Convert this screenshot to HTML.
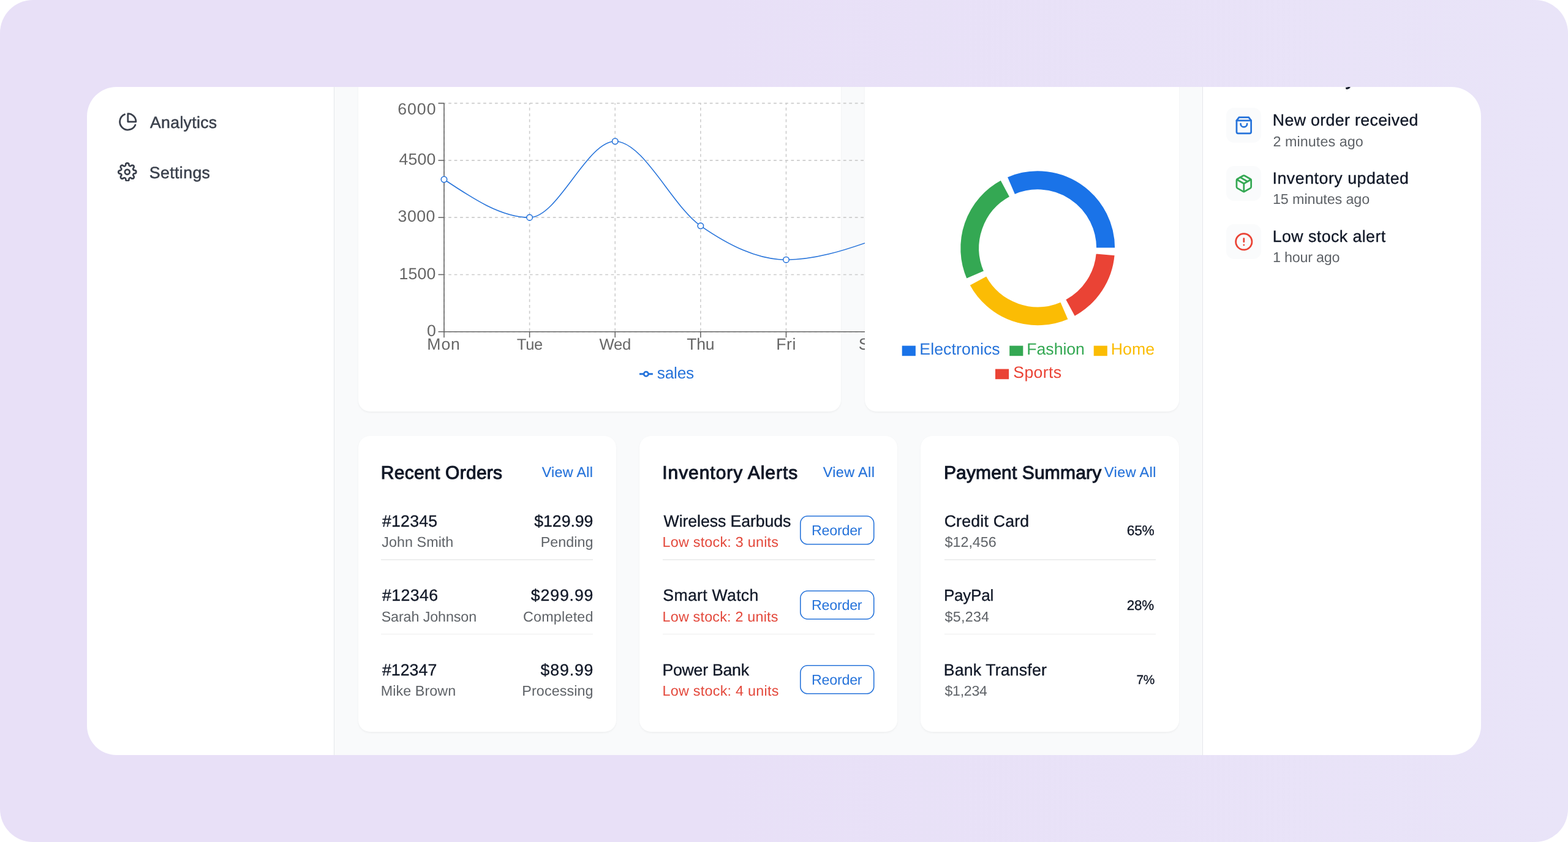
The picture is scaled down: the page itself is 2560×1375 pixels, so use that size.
<!DOCTYPE html>
<html lang="en"><head><meta charset="utf-8"><title>Dashboard</title>
<style>
html,body{margin:0;padding:0;background:#fff;}
body{width:2560px;height:1375px;overflow:hidden;position:relative;font-family:"Liberation Sans", sans-serif;}
.abs{position:absolute;}
.w{display:contents;}
.t{position:absolute;white-space:nowrap;line-height:1;font-family:"Liberation Sans", sans-serif;text-rendering:geometricPrecision;}
#frame{position:absolute;left:0;top:0;width:2560px;height:1375px;border-radius:54px;background:linear-gradient(90deg,#e8e0f7 0%,#e8e0f7 45%,#e9e4f8 100%);}
#app{position:absolute;left:142px;top:142px;width:2276px;height:1091px;border-radius:48px;overflow:hidden;background:#fff;}
#g{position:absolute;left:-142px;top:-142px;width:2560px;height:1375px;}
#main{position:absolute;left:546px;top:0;width:1417.5px;height:1375px;background:#f9fafb;}
.card{position:absolute;background:#fff;border-radius:18.97px;box-shadow:0 1.58px 3.16px rgba(0,0,0,0.045);}
#chartclip{position:absolute;left:0;top:0;width:1411.5px;height:1375px;overflow:hidden;}
</style></head>
<body>
<div id="frame"></div>
<div id="app"><div id="g">
<div id="main"></div>
<div class="abs" style="left:545px;top:0;width:1px;height:1375px;background:#e5e7eb"></div>
<div class="abs" style="left:1963.2px;top:0;width:1px;height:1375px;background:#e5e7eb"></div>
<aside class="w"><nav class="w">
<svg class="abs" style="left:192.69px;top:182.79px" width="31.61" height="31.61" viewBox="0 0 24 24" fill="none" stroke="#3a404c" stroke-width="2.08" stroke-linecap="round" stroke-linejoin="round"><path d="M21.21 15.89A10 10 0 1 1 8 2.83"/><path d="M22 12A10 10 0 0 0 12 2v10z"/></svg><svg class="abs" style="left:192.09px;top:264.79px" width="31.61" height="31.61" viewBox="0 0 24 24" fill="none" stroke="#3a404c" stroke-width="2.08" stroke-linecap="round" stroke-linejoin="round"><circle cx="12" cy="12" r="3"/><path d="M19.4 15a1.65 1.65 0 0 0 .33 1.82l.06.06a2 2 0 0 1 0 2.83 2 2 0 0 1-2.83 0l-.06-.06a1.65 1.65 0 0 0-1.82-.33 1.65 1.65 0 0 0-1 1.51V21a2 2 0 0 1-2 2 2 2 0 0 1-2-2v-.09A1.65 1.65 0 0 0 9 19.4a1.65 1.65 0 0 0-1.82.33l-.06.06a2 2 0 0 1-2.83 0 2 2 0 0 1 0-2.83l.06-.06a1.65 1.65 0 0 0 .33-1.82 1.65 1.65 0 0 0-1.51-1H3a2 2 0 0 1-2-2 2 2 0 0 1 2-2h.09A1.65 1.65 0 0 0 4.6 9a1.65 1.65 0 0 0-.33-1.82l-.06-.06a2 2 0 0 1 0-2.83 2 2 0 0 1 2.83 0l.06.06a1.65 1.65 0 0 0 1.82.33H9a1.65 1.65 0 0 0 1-1.51V3a2 2 0 0 1 2-2 2 2 0 0 1 2 2v.09a1.65 1.65 0 0 0 1 1.51 1.65 1.65 0 0 0 1.82-.33l.06-.06a2 2 0 0 1 2.83 0 2 2 0 0 1 0 2.83l-.06.06a1.65 1.65 0 0 0-.33 1.82V9a1.65 1.65 0 0 0 1.51 1H21a2 2 0 0 1 2 2 2 2 0 0 1-2 2h-.09a1.65 1.65 0 0 0-1.51 1z"/></svg>
<span class="t" style="left:245.00px;top:187px;font-size:26.68px;color:#3a404c;letter-spacing:0.309px;-webkit-text-stroke:0.50px #3a404c;">Analytics</span><span class="t" style="left:243.80px;top:269px;font-size:26.68px;color:#3a404c;letter-spacing:0.398px;-webkit-text-stroke:0.50px #3a404c;">Settings</span>
</nav></aside>
<main class="w">
<section class="w">
<div class="card" style="left:584.50px;top:60.00px;width:788.75px;height:612.30px;"></div>
<div id="chartclip">
<svg class="abs" style="left:0;top:0" width="2560" height="1375" viewBox="0 0 2560 1375">
<line x1="725.0" y1="541.70" x2="1562.72" y2="541.70" stroke="#ccc" stroke-width="1.58" stroke-dasharray="4.74 4.74" stroke-dashoffset="2.3"/>
<line x1="725.0" y1="448.43" x2="1562.72" y2="448.43" stroke="#ccc" stroke-width="1.58" stroke-dasharray="4.74 4.74" stroke-dashoffset="2.3"/>
<line x1="725.0" y1="355.15" x2="1562.72" y2="355.15" stroke="#ccc" stroke-width="1.58" stroke-dasharray="4.74 4.74" stroke-dashoffset="2.3"/>
<line x1="725.0" y1="261.88" x2="1562.72" y2="261.88" stroke="#ccc" stroke-width="1.58" stroke-dasharray="4.74 4.74" stroke-dashoffset="2.3"/>
<line x1="725.0" y1="168.60" x2="1562.72" y2="168.60" stroke="#ccc" stroke-width="1.58" stroke-dasharray="4.74 4.74" stroke-dashoffset="2.3"/>
<line x1="725.00" y1="168.6" x2="725.00" y2="541.7" stroke="#ccc" stroke-width="1.58" stroke-dasharray="4.74 4.74" stroke-dashoffset="2.3"/>
<line x1="864.62" y1="168.6" x2="864.62" y2="541.7" stroke="#ccc" stroke-width="1.58" stroke-dasharray="4.74 4.74" stroke-dashoffset="2.3"/>
<line x1="1004.24" y1="168.6" x2="1004.24" y2="541.7" stroke="#ccc" stroke-width="1.58" stroke-dasharray="4.74 4.74" stroke-dashoffset="2.3"/>
<line x1="1143.86" y1="168.6" x2="1143.86" y2="541.7" stroke="#ccc" stroke-width="1.58" stroke-dasharray="4.74 4.74" stroke-dashoffset="2.3"/>
<line x1="1283.48" y1="168.6" x2="1283.48" y2="541.7" stroke="#ccc" stroke-width="1.58" stroke-dasharray="4.74 4.74" stroke-dashoffset="2.3"/>
<line x1="1423.10" y1="168.6" x2="1423.10" y2="541.7" stroke="#ccc" stroke-width="1.58" stroke-dasharray="4.74 4.74" stroke-dashoffset="2.3"/>
<line x1="1562.72" y1="168.6" x2="1562.72" y2="541.7" stroke="#ccc" stroke-width="1.58" stroke-dasharray="4.74 4.74" stroke-dashoffset="2.3"/>
<line x1="725.0" y1="541.7" x2="1562.72" y2="541.7" stroke="#666666" stroke-width="1.58"/>
<line x1="725.0" y1="168.6" x2="725.0" y2="541.7" stroke="#666666" stroke-width="1.58"/>
<line x1="725.00" y1="541.7" x2="725.00" y2="551.18" stroke="#666666" stroke-width="1.58"/>
<line x1="864.62" y1="541.7" x2="864.62" y2="551.18" stroke="#666666" stroke-width="1.58"/>
<line x1="1004.24" y1="541.7" x2="1004.24" y2="551.18" stroke="#666666" stroke-width="1.58"/>
<line x1="1143.86" y1="541.7" x2="1143.86" y2="551.18" stroke="#666666" stroke-width="1.58"/>
<line x1="1283.48" y1="541.7" x2="1283.48" y2="551.18" stroke="#666666" stroke-width="1.58"/>
<line x1="1423.10" y1="541.7" x2="1423.10" y2="551.18" stroke="#666666" stroke-width="1.58"/>
<line x1="1562.72" y1="541.7" x2="1562.72" y2="551.18" stroke="#666666" stroke-width="1.58"/>
<line x1="715.52" y1="541.70" x2="725.0" y2="541.70" stroke="#666666" stroke-width="1.58"/>
<line x1="715.52" y1="448.43" x2="725.0" y2="448.43" stroke="#666666" stroke-width="1.58"/>
<line x1="715.52" y1="355.15" x2="725.0" y2="355.15" stroke="#666666" stroke-width="1.58"/>
<line x1="715.52" y1="261.88" x2="725.0" y2="261.88" stroke="#666666" stroke-width="1.58"/>
<line x1="715.52" y1="168.60" x2="725.0" y2="168.60" stroke="#666666" stroke-width="1.58"/>
<path d="M725.00,292.97C771.54,324.06 818.08,355.15 864.62,355.15C911.16,355.15 957.70,230.78 1004.24,230.78C1050.78,230.78 1097.32,336.60 1143.86,368.83C1190.40,401.06 1236.94,424.17 1283.48,424.17C1330.02,424.17 1376.56,409.66 1423.10,393.08C1469.64,376.50 1516.18,350.59 1562.72,324.68" fill="none" stroke="#2673da" stroke-width="1.58"/>
<circle cx="725.00" cy="292.97" r="4.74" fill="#fff" stroke="#2673da" stroke-width="1.58"/>
<circle cx="864.62" cy="355.15" r="4.74" fill="#fff" stroke="#2673da" stroke-width="1.58"/>
<circle cx="1004.24" cy="230.78" r="4.74" fill="#fff" stroke="#2673da" stroke-width="1.58"/>
<circle cx="1143.86" cy="368.83" r="4.74" fill="#fff" stroke="#2673da" stroke-width="1.58"/>
<circle cx="1283.48" cy="424.17" r="4.74" fill="#fff" stroke="#2673da" stroke-width="1.58"/>
<circle cx="1423.10" cy="393.08" r="4.74" fill="#fff" stroke="#2673da" stroke-width="1.58"/>
<circle cx="1562.72" cy="324.68" r="4.74" fill="#fff" stroke="#2673da" stroke-width="1.58"/>
<svg x="1043.80" y="599.69" width="22.13" height="22.13" viewBox="0 0 32 32"><path stroke-width="4" fill="none" stroke="#2673da" d="M0,16h10.666666666666666A5.333333333333333,5.333333333333333,0,1,1,21.333333333333332,16H32M21.333333333333332,16A5.333333333333333,5.333333333333333,0,1,1,10.666666666666666,16"/></svg>
</svg>
<span class="t" style="left:649.17px;top:165px;font-size:26.68px;color:#666666;letter-spacing:0.999px;">6000</span><span class="t" style="left:651.47px;top:247px;font-size:26.68px;color:#666666;letter-spacing:0.149px;">4500</span><span class="t" style="left:649.57px;top:340px;font-size:26.68px;color:#666666;letter-spacing:0.482px;">3000</span><span class="t" style="left:651.50px;top:434px;font-size:26.68px;color:#666666;letter-spacing:0.138px;">1500</span><span class="t" style="left:697.07px;top:527px;font-size:26.68px;color:#666666;letter-spacing:0.110px;">0</span><span class="t" style="left:697.37px;top:549px;font-size:26.68px;color:#666666;letter-spacing:0.833px;">Mon</span><span class="t" style="left:843.74px;top:551px;font-size:25.57px;color:#666666;letter-spacing:-0.250px;">Tue</span><span class="t" style="left:978.50px;top:551px;font-size:25.7px;color:#666666;letter-spacing:-0.250px;">Wed</span><span class="t" style="left:1121.22px;top:549px;font-size:26.6px;color:#666666;letter-spacing:-0.250px;">Thu</span><span class="t" style="left:1267.28px;top:549px;font-size:26.68px;color:#666666;letter-spacing:0.476px;">Fri</span><span class="t" style="left:1401.84px;top:549px;font-size:26.68px;color:#666666;letter-spacing:0.678px;">Sat</span><span class="t" style="left:1538.42px;top:549px;font-size:26.68px;color:#666666;letter-spacing:0.781px;">Sun</span><span class="t" style="left:1072.84px;top:596px;font-size:26.29px;color:#2673da;letter-spacing:-0.250px;">sales</span>
</div>
</section>
<section class="w">
<div class="card" style="left:1411.50px;top:60.00px;width:513.30px;height:612.30px;"></div>
<svg class="abs" style="left:0;top:0" width="2560" height="1375" viewBox="0 0 2560 1375">
<path d="M1820.94,405.30A126.74,126.74 0 0 0 1644.00,288.92L1656.52,317.95A95.13,95.13 0 0 1 1789.33,405.30Z" fill="#1a73e8" stroke="#fff" stroke-width="1.58"/>
<path d="M1634.05,293.74A126.74,126.74 0 0 0 1577.82,455.50L1606.85,442.98A95.13,95.13 0 0 1 1649.05,321.56Z" fill="#34a853" stroke="#fff" stroke-width="1.58"/>
<path d="M1582.64,465.45A126.74,126.74 0 0 0 1744.40,521.68L1731.88,492.65A95.13,95.13 0 0 1 1610.46,450.45Z" fill="#fbbc04" stroke="#fff" stroke-width="1.58"/>
<path d="M1754.35,516.86A126.74,126.74 0 0 0 1820.46,416.35L1788.97,413.59A95.13,95.13 0 0 1 1739.35,489.04Z" fill="#ea4335" stroke="#fff" stroke-width="1.58"/>
<rect x="1472.7" y="564.6" width="22.13" height="16.60" fill="#1a73e8"/>
<rect x="1648.2" y="564.6" width="22.13" height="16.60" fill="#34a853"/>
<rect x="1785.7" y="564.6" width="22.13" height="16.60" fill="#fbbc04"/>
<rect x="1625.0" y="602.6" width="22.13" height="16.60" fill="#ea4335"/>
</svg>
<span class="t" style="left:1501.27px;top:557px;font-size:26.68px;color:#2673da;letter-spacing:0.099px;">Electronics</span><span class="t" style="left:1676.37px;top:557px;font-size:26.68px;color:#34a853;letter-spacing:-0.058px;">Fashion</span><span class="t" style="left:1813.67px;top:557px;font-size:26.68px;color:#fbbc04;letter-spacing:0.088px;">Home</span><span class="t" style="left:1654.30px;top:595px;font-size:26.68px;color:#ea4335;letter-spacing:0.325px;">Sports</span>
</section>
<section class="w">
<div class="card" style="left:584.50px;top:711.50px;width:421.48px;height:483.30px;"></div>
<div class="abs" style="left:622.4px;top:913.11px;width:345.50px;height:1.58px;background:#edeeee"></div><div class="abs" style="left:622.4px;top:1034.81px;width:345.50px;height:1.58px;background:#edeeee"></div>
<span class="t" style="left:621.82px;top:758px;font-size:30.01px;color:#111827;letter-spacing:0.269px;-webkit-text-stroke:1.05px #111827;">Recent Orders</span><span class="t" style="left:884.71px;top:760px;font-size:23.34px;color:#2673da;letter-spacing:0.275px;-webkit-text-stroke:0.21px #2673da;">View All</span><span class="t" style="left:623.88px;top:838px;font-size:26.68px;color:#111827;letter-spacing:0.264px;-webkit-text-stroke:0.35px #111827;">#12345</span><span class="t" style="left:872.31px;top:838px;font-size:26.68px;color:#111827;letter-spacing:-0.049px;-webkit-text-stroke:0.35px #111827;">$129.99</span><span class="t" style="left:623.35px;top:874px;font-size:23.34px;color:#5f6368;letter-spacing:0.033px;">John Smith</span><span class="t" style="left:882.73px;top:874px;font-size:23.34px;color:#5f6368;letter-spacing:0.037px;">Pending</span><span class="t" style="left:623.88px;top:959px;font-size:26.68px;color:#111827;letter-spacing:0.424px;-webkit-text-stroke:0.35px #111827;">#12346</span><span class="t" style="left:866.81px;top:959px;font-size:26.68px;color:#111827;letter-spacing:0.868px;-webkit-text-stroke:0.35px #111827;">$299.99</span><span class="t" style="left:622.65px;top:996px;font-size:23.34px;color:#5f6368;letter-spacing:-0.114px;">Sarah Johnson</span><span class="t" style="left:853.93px;top:996px;font-size:23.34px;color:#5f6368;letter-spacing:0.225px;">Completed</span><span class="t" style="left:623.88px;top:1081px;font-size:26.68px;color:#111827;letter-spacing:0.071px;-webkit-text-stroke:0.35px #111827;">#12347</span><span class="t" style="left:882.61px;top:1081px;font-size:26.68px;color:#111827;letter-spacing:0.849px;-webkit-text-stroke:0.35px #111827;">$89.99</span><span class="t" style="left:621.83px;top:1117px;font-size:23.34px;color:#5f6368;letter-spacing:0.050px;">Mike Brown</span><span class="t" style="left:852.33px;top:1117px;font-size:23.34px;color:#5f6368;letter-spacing:0.090px;">Processing</span>
</section>
<section class="w">
<div class="card" style="left:1043.91px;top:711.50px;width:421.48px;height:483.30px;"></div>
<div class="abs" style="left:1082.2px;top:913.11px;width:345.60px;height:1.58px;background:#edeeee"></div><div class="abs" style="left:1082.2px;top:1034.81px;width:345.60px;height:1.58px;background:#edeeee"></div>
<svg class="abs" style="left:0;top:0" width="2560" height="1375" viewBox="0 0 2560 1375"><rect x="1306.79" y="842.79" width="119.92" height="46.02" rx="11.85" fill="none" stroke="#2673da" stroke-width="1.58"/><rect x="1306.79" y="964.99" width="119.92" height="46.02" rx="11.85" fill="none" stroke="#2673da" stroke-width="1.58"/><rect x="1306.79" y="1086.79" width="119.92" height="46.02" rx="11.85" fill="none" stroke="#2673da" stroke-width="1.58"/></svg>
<span class="t" style="left:1081.22px;top:758px;font-size:30.01px;color:#111827;letter-spacing:0.949px;-webkit-text-stroke:1.05px #111827;">Inventory Alerts</span><span class="t" style="left:1343.70px;top:760px;font-size:23.34px;color:#2673da;letter-spacing:0.417px;-webkit-text-stroke:0.21px #2673da;">View All</span><span class="t" style="left:1083.58px;top:838px;font-size:26.68px;color:#111827;letter-spacing:-0.085px;-webkit-text-stroke:0.35px #111827;">Wireless Earbuds</span><span class="t" style="left:1081.53px;top:874px;font-size:23.34px;color:#e3483b;letter-spacing:0.237px;">Low stock: 3 units</span><span class="t" style="left:1325.04px;top:855px;font-size:23.27px;color:#2673da;letter-spacing:-0.250px;">Reorder</span><span class="t" style="left:1082.37px;top:959px;font-size:26.68px;color:#111827;letter-spacing:0.279px;-webkit-text-stroke:0.35px #111827;">Smart Watch</span><span class="t" style="left:1081.53px;top:996px;font-size:23.34px;color:#e3483b;letter-spacing:0.208px;">Low stock: 2 units</span><span class="t" style="left:1325.04px;top:977px;font-size:23.27px;color:#2673da;letter-spacing:-0.250px;">Reorder</span><span class="t" style="left:1081.44px;top:1081px;font-size:26.68px;color:#111827;letter-spacing:-0.244px;-webkit-text-stroke:0.35px #111827;">Power Bank</span><span class="t" style="left:1081.53px;top:1117px;font-size:23.34px;color:#e3483b;letter-spacing:0.261px;">Low stock: 4 units</span><span class="t" style="left:1325.04px;top:1099px;font-size:23.27px;color:#2673da;letter-spacing:-0.250px;">Reorder</span>
</section>
<section class="w">
<div class="card" style="left:1503.32px;top:711.50px;width:421.48px;height:483.30px;"></div>
<div class="abs" style="left:1541.6px;top:913.11px;width:345.40px;height:1.58px;background:#edeeee"></div><div class="abs" style="left:1541.6px;top:1034.81px;width:345.40px;height:1.58px;background:#edeeee"></div>
<span class="t" style="left:1540.92px;top:758px;font-size:30.01px;color:#111827;letter-spacing:0.154px;-webkit-text-stroke:1.05px #111827;">Payment Summary</span><span class="t" style="left:1803.01px;top:760px;font-size:23.34px;color:#2673da;letter-spacing:0.446px;-webkit-text-stroke:0.21px #2673da;">View All</span><span class="t" style="left:1541.64px;top:838px;font-size:26.68px;color:#111827;letter-spacing:0.211px;-webkit-text-stroke:0.35px #111827;">Credit Card</span><span class="t" style="left:1542.57px;top:874px;font-size:23.34px;color:#5f6368;letter-spacing:-0.032px;">$12,456</span><span class="t" style="left:1839.84px;top:855px;font-size:22.71px;color:#111827;letter-spacing:-0.250px;-webkit-text-stroke:0.35px #111827;">65%</span><span class="t" style="left:1540.89px;top:959px;font-size:26.1px;color:#111827;letter-spacing:-0.250px;-webkit-text-stroke:0.35px #111827;">PayPal</span><span class="t" style="left:1542.57px;top:996px;font-size:23.34px;color:#5f6368;letter-spacing:0.228px;">$5,234</span><span class="t" style="left:1839.85px;top:978px;font-size:22.4px;color:#111827;letter-spacing:-0.250px;-webkit-text-stroke:0.35px #111827;">28%</span><span class="t" style="left:1540.84px;top:1081px;font-size:26.68px;color:#111827;letter-spacing:0.162px;-webkit-text-stroke:0.35px #111827;">Bank Transfer</span><span class="t" style="left:1542.57px;top:1117px;font-size:23.04px;color:#5f6368;letter-spacing:-0.250px;">$1,234</span><span class="t" style="left:1855.54px;top:1101px;font-size:20.79px;color:#111827;letter-spacing:-0.250px;-webkit-text-stroke:0.35px #111827;">7%</span>
</section>
</main>
<aside class="w">
<div class="abs" style="left:2002.25px;top:176.40px;width:56.90px;height:56.90px;border-radius:12.64px;background:#fafbfc"></div><svg class="abs" style="left:2014.89px;top:189.04px" width="31.61" height="31.61" viewBox="0 0 24 24" fill="none" stroke="#2673da" stroke-width="2.08" stroke-linecap="round" stroke-linejoin="round"><path d="M6 2 3 6v14a2 2 0 0 0 2 2h14a2 2 0 0 0 2-2V6l-3-4Z"/><path d="M3 6h18"/><path d="M16 10a4 4 0 0 1-8 0"/></svg><div class="abs" style="left:2002.25px;top:271.20px;width:56.90px;height:56.90px;border-radius:12.64px;background:#fafbfc"></div><svg class="abs" style="left:2014.89px;top:283.84px" width="31.61" height="31.61" viewBox="0 0 24 24" fill="none" stroke="#34a853" stroke-width="2.08" stroke-linecap="round" stroke-linejoin="round"><path d="m7.5 4.27 9 5.15"/><path d="M21 8a2 2 0 0 0-1-1.73l-7-4a2 2 0 0 0-2 0l-7 4A2 2 0 0 0 3 8v8a2 2 0 0 0 1 1.73l7 4a2 2 0 0 0 2 0l7-4A2 2 0 0 0 21 16Z"/><path d="m3.3 7 8.7 5 8.7-5"/><path d="M12 22V12"/></svg><div class="abs" style="left:2002.25px;top:366.00px;width:56.90px;height:56.90px;border-radius:12.64px;background:#fafbfc"></div><svg class="abs" style="left:2014.89px;top:378.64px" width="31.61" height="31.61" viewBox="0 0 24 24" fill="none" stroke="#ea4335" stroke-width="2.08" stroke-linecap="round" stroke-linejoin="round"><circle cx="12" cy="12" r="10"/><line x1="12" x2="12" y1="8" y2="12"/><line x1="12" x2="12.01" y1="16" y2="16"/></svg>
<span class="t" style="left:2002.12px;top:115px;font-size:30.01px;color:#111827;letter-spacing:0.915px;-webkit-text-stroke:1.05px #111827;">Recent Activity</span><span class="t" style="left:2077.79px;top:183px;font-size:26.68px;color:#111827;letter-spacing:0.376px;-webkit-text-stroke:0.35px #111827;">New order received</span><span class="t" style="left:2078.58px;top:220px;font-size:23.34px;color:#5f6368;letter-spacing:0.044px;">2 minutes ago</span><span class="t" style="left:2077.52px;top:278px;font-size:26.68px;color:#111827;letter-spacing:0.555px;-webkit-text-stroke:0.35px #111827;">Inventory updated</span><span class="t" style="left:2078.00px;top:314px;font-size:23.34px;color:#5f6368;letter-spacing:-0.105px;">15 minutes ago</span><span class="t" style="left:2077.79px;top:373px;font-size:26.68px;color:#111827;letter-spacing:0.462px;-webkit-text-stroke:0.35px #111827;">Low stock alert</span><span class="t" style="left:2078.00px;top:409px;font-size:23.34px;color:#5f6368;letter-spacing:-0.235px;">1 hour ago</span>
</aside>
</div></div>
</body></html>
